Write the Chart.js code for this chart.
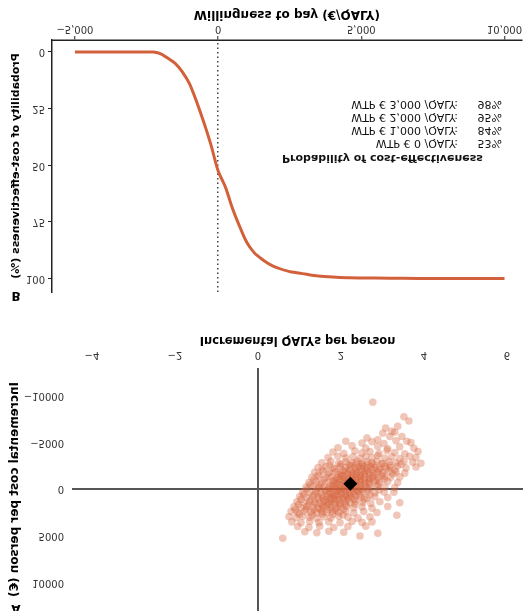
<!DOCTYPE html>
<html>
<head>
<meta charset="utf-8">
<script src="https://cdn.jsdelivr.net/npm/chart.js@4/dist/chart.umd.min.js"></script>
<style>
  html, body { margin: 0; padding: 0; background: #fff; }
  #wrap { width: 523px; height: 611px; overflow: hidden; }
  canvas { display: block; transform: scaleY(-1); }
</style>
</head>
<body>
<div id="wrap">
  <canvas id="ceacChart" width="523" height="305"></canvas>
  <canvas id="planeChart" width="523" height="306"></canvas>
</div>
<script>
// panel B: acceptability curve
const wtpValues = [-5000, -2500, -2250, -2000, -1750, -1500, -1250, -1000, -750, -500, -250, 0, 250, 500, 750, 1000, 1250, 1500, 1750, 2000, 2500, 3000, 3500, 4000, 4500, 5000, 6000, 7000, 8000, 9000, 10000];
const probCE = [0, 0, 0, 0.8, 2.8, 5, 8.8, 14, 22, 31, 41, 52.5, 59.5, 69, 77, 84, 88.5, 91.2, 93.4, 95, 97, 98, 98.9, 99.4, 99.7, 99.8, 99.9, 100, 100, 100, 100];
const wtpTicks = [-5000, 0, 5000, 10000];
const wtpTickLabels = ['\u22125,000', '0', '5,000', '10,000'];
const probTicks = [0, 25, 50, 75, 100];
const thresholdWtp = ['0', '1,000', '2,000', '3,000'];
const thresholdProb = [53, 84, 95, 98];

// panel A: cost-effectiveness plane (qaly, cost)
const simPoints = [
  [2.77,-9260],
  [3.52,-7700],[3.64,-7250],
  [3.08,-6500],[3.23,-6150],[3.37,-6700],
  [3.01,-5950],[3.30,-6050],[3.47,-5600],
  [2.63,-5450],[2.89,-5250],[3.18,-5600],[3.59,-5100],
  [2.12,-5100],[2.51,-4900],[2.75,-5050],[3.04,-4850],[3.33,-5150],[3.69,-4950],
  [1.93,-4400],[2.27,-4600],[2.60,-4350],[2.89,-4550],[3.13,-4300],[3.42,-4500],[3.76,-4350],
  [1.81,-3950],[2.07,-3800],[2.34,-4050],[2.51,-3850],[2.70,-4000],[2.92,-3800],[3.11,-4100],[3.30,-3900],[3.54,-3750],[3.86,-4000],
  [1.69,-3350],[1.93,-3500],[2.12,-3300],[2.29,-3450],[2.46,-3250],[2.60,-3500],[2.75,-3350],[2.89,-3550],[3.06,-3300],[3.23,-3450],[3.42,-3250],[3.66,-3500],[3.81,-3350],
  [1.54,-2800],[1.76,-2950],[1.95,-2750],[2.12,-2900],[2.27,-2800],[2.39,-2950],[2.51,-2750],[2.63,-2900],[2.75,-2800],[2.87,-2950],[3.01,-2750],[3.16,-2900],[3.33,-2800],[3.52,-2950],[3.73,-2850],[3.93,-2750],
  [1.45,-2300],[1.64,-2400],[1.81,-2250],[1.98,-2400],[2.12,-2300],[2.24,-2450],[2.34,-2250],[2.43,-2350],[2.53,-2450],[2.63,-2250],[2.72,-2400],[2.82,-2300],[2.94,-2200],[3.06,-2400],[3.20,-2300],[3.37,-2450],[3.57,-2250],[3.81,-2350],
  [1.37,-1800],[1.57,-1900],[1.73,-1750],[1.88,-1850],[2.00,-1700],[2.10,-1900],[2.19,-1800],[2.29,-1700],[2.39,-1850],[2.48,-1750],[2.58,-1900],[2.67,-1800],[2.77,-1700],[2.89,-1850],[3.01,-1750],[3.16,-1900],[3.33,-1800],[3.54,-1700],
  [1.30,-1250],[1.47,-1350],[1.64,-1200],[1.78,-1300],[1.90,-1200],[2.00,-1350],[2.10,-1250],[2.19,-1150],[2.29,-1300],[2.39,-1200],[2.48,-1350],[2.58,-1250],[2.67,-1150],[2.77,-1300],[2.89,-1200],[3.04,-1350],[3.20,-1250],[3.42,-1300],
  [1.23,-700],[1.40,-800],[1.54,-650],[1.69,-750],[1.81,-850],[1.90,-700],[2.00,-800],[2.10,-650],[2.19,-750],[2.29,-850],[2.39,-700],[2.48,-800],[2.58,-650],[2.67,-750],[2.80,-850],[2.94,-700],[3.13,-800],[3.37,-700],
  [1.16,-200],[1.33,-300],[1.47,-150],[1.59,-250],[1.71,-100],[1.81,-300],[1.90,-200],[2.00,-100],[2.10,-250],[2.19,-150],[2.29,-300],[2.39,-200],[2.48,-100],[2.60,-250],[2.72,-150],[2.87,-300],[3.06,-200],[3.30,-150],
  [1.08,300],[1.25,400],[1.40,250],[1.52,350],[1.64,200],[1.73,400],[1.83,300],[1.93,200],[2.02,350],[2.12,250],[2.22,400],[2.31,300],[2.41,200],[2.53,350],[2.65,250],[2.82,400],[3.04,300],[3.28,350],
  [1.01,800],[1.18,900],[1.33,750],[1.45,850],[1.57,950],[1.66,800],[1.76,900],[1.86,750],[1.95,850],[2.05,950],[2.14,800],[2.24,900],[2.36,750],[2.48,850],[2.63,950],[2.82,800],[3.13,900],
  [0.94,1350],[1.11,1450],[1.25,1300],[1.37,1400],[1.49,1500],[1.59,1350],[1.69,1450],[1.78,1300],[1.88,1400],[1.98,1500],[2.10,1350],[2.22,1450],[2.36,1300],[2.53,1400],[2.72,1500],[2.94,1350],[3.42,1450],
  [0.87,1900],[1.04,2000],[1.18,1850],[1.33,1950],[1.45,2050],[1.57,1900],[1.66,1800],[1.76,1950],[1.88,2050],[2.00,1900],[2.14,1850],[2.31,2000],[2.51,1900],[2.75,2050],[3.13,1850],
  [0.80,2400],[0.96,2500],[1.13,2350],[1.28,2450],[1.42,2550],[1.54,2400],[1.66,2500],[1.81,2350],[1.95,2500],[2.12,2400],[2.31,2550],[2.55,2400],[2.87,2500],
  [0.75,2950],[0.92,3050],[1.08,2900],[1.25,3000],[1.42,3100],[1.59,2950],[1.76,3050],[1.95,2900],[2.17,3000],[2.41,3100],[2.70,2950],[3.35,2800],
  [0.82,3500],[1.04,3600],[1.25,3450],[1.47,3550],[1.71,3500],[1.98,3600],[2.27,3450],[2.51,3550],[2.75,3500],
  [0.96,4000],[1.23,4100],[1.49,3950],[1.83,4100],[2.17,4000],[2.60,3950],
  [1.13,4550],[1.42,4650],[1.71,4500],[2.07,4600],[2.89,4700],
  [0.60,5250],[2.46,5000],
  // denser core
  [1.72,-2550],[2.00,-2650],[2.20,-2600],[2.36,-2700],[2.50,-2550],[2.66,-2650],[2.80,-2600],[2.98,-2700],[3.18,-2550],[3.45,-2650],
  [1.55,-2050],[1.85,-2150],[2.05,-2000],[2.22,-2100],[2.36,-2050],[2.50,-2150],[2.62,-2000],[2.76,-2100],[2.92,-2050],[3.10,-2150],[3.30,-2000],
  [1.45,-1500],[1.70,-1600],[1.94,-1550],[2.05,-1450],[2.16,-1600],[2.26,-1500],[2.36,-1550],[2.46,-1450],[2.56,-1600],[2.70,-1500],[2.84,-1550],[3.00,-1450],[3.25,-1600],
  [1.35,-1000],[1.60,-1050],[1.84,-950],[1.96,-1050],[2.06,-1000],[2.16,-950],[2.26,-1050],[2.36,-1000],[2.46,-950],[2.56,-1050],[2.70,-1000],[2.86,-950],[3.05,-1050],
  [1.26,-450],[1.50,-500],[1.74,-400],[1.86,-550],[1.96,-450],[2.06,-500],[2.16,-400],[2.26,-550],[2.36,-450],[2.46,-500],[2.56,-400],[2.70,-550],[2.90,-450],
  [1.18,50],[1.42,0],[1.62,100],[1.78,-50],[1.88,50],[1.98,100],[2.08,0],[2.18,50],[2.28,-50],[2.38,100],[2.50,50],[2.66,0],[2.92,100],
  [1.10,600],[1.36,550],[1.54,650],[1.70,550],[1.80,600],[1.90,650],[2.00,550],[2.10,600],[2.20,650],[2.32,550],[2.46,600],[2.70,650],
  [1.04,1100],[1.28,1150],[1.46,1050],[1.62,1150],[1.74,1100],[1.84,1050],[1.94,1150],[2.06,1100],[2.18,1050],[2.32,1150],[2.56,1100],
  [0.98,1650],[1.22,1700],[1.40,1600],[1.56,1700],[1.72,1650],[1.84,1600],[1.96,1700],[2.12,1650],[2.34,1600],
  [0.90,2200],[1.16,2150],[1.36,2250],[1.52,2150],[1.70,2200],[1.88,2250],[2.06,2150],
  [1.00,2700],[1.30,2750],[1.55,2650],[1.80,2700],[2.05,2750]
];
const meanPoint = [2.23, -550];
const qalyTicks = [-4, -2, 0, 2, 4, 6];
const costTicks = [-10000, -5000, 0, 5000, 10000];

const FONT = '"DejaVu Sans", sans-serif';
const curveColor = '#d2603a';

function panelLetter(letter, x, y) {
    return {
        id: 'letter' + letter,
        afterDraw(chart) {
            const ctx = chart.ctx;
            ctx.save();
            ctx.font = 'bold 12px ' + FONT;
            ctx.fillStyle = '#000';
            ctx.textAlign = 'center';
            ctx.textBaseline = 'middle';
            ctx.fillText(letter, x, y);
            ctx.restore();
        }
    };
}

const ceacText = {
    id: 'ceacText',
    afterDraw(chart) {
        const ctx = chart.ctx;
        ctx.save();
        ctx.fillStyle = '#111';
        ctx.textBaseline = 'middle';
        ctx.font = 'bold 11px ' + FONT;
        ctx.fillText('Probability of cost-effectiveness', 282, 147);
        ctx.font = '11px ' + FONT;
        ctx.textAlign = 'right';
        for (let i = 0; i < thresholdWtp.length; i++) {
            const y = 162 + i * 13;
            ctx.fillText(`WTP € ${thresholdWtp[i]} /QALY:`, 458, y);
            ctx.fillText(`${thresholdProb[i]}%`, 502, y);
        }
        ctx.restore();
    }
};

new Chart(document.getElementById('ceacChart'), {
    type: 'line',
    data: {
        datasets: [{
            data: wtpValues.map((w, i) => ({ x: w, y: probCE[i] })),
            borderColor: curveColor,
            borderWidth: 3,
            pointRadius: 0,
            tension: 0.3,
            fill: false
        }]
    },
    options: {
        responsive: false,
        animation: false,
        layout: { autoPadding: false, padding: { top: 13, right: 0, left: 0, bottom: 0 } },
        plugins: { legend: { display: false }, tooltip: { enabled: false } },
        scales: {
            x: {
                type: 'linear',
                min: -5800,
                max: 10600,
                afterBuildTicks: s => { s.ticks = wtpTicks.map(v => ({ value: v })); },
                afterFit: s => { s.height = 40; },
                ticks: {
                    callback: (v, i) => wtpTickLabels[i],
                    font: { family: FONT, size: 10 },
                    color: '#333',
                    padding: 1,
                    maxRotation: 0
                },
                grid: {
                    color: c => (c.tick && c.tick.value === 0) ? '#444' : 'rgba(0,0,0,0)',
                    lineWidth: 1.5,
                    tickColor: '#222',
                    tickLength: 4,
                    tickWidth: 1
                },
                border: { display: true, color: '#222', width: 1.5, dash: [1.5, 3] },
                title: {
                    display: true,
                    text: 'Willingness to pay (€/QALY)',
                    font: { family: FONT, size: 12, weight: 'bold' },
                    color: '#000',
                    padding: { top: 0, bottom: 7 }
                }
            },
            y: {
                min: -5.3,
                max: 106,
                afterBuildTicks: s => { s.ticks = probTicks.map(v => ({ value: v })); },
                afterFit: s => { s.width = 52; },
                ticks: {
                    font: { family: FONT, size: 10 },
                    color: '#333',
                    padding: 3
                },
                grid: {
                    drawOnChartArea: false,
                    tickColor: '#222',
                    tickLength: 4
                },
                border: { display: true, color: '#222', width: 1.5 },
                title: {
                    display: true,
                    text: 'Probability of cost-effectiveness (%)',
                    font: { family: FONT, size: 11, weight: 'bold' },
                    color: '#000',
                    padding: { top: 10, bottom: 0 }
                }
            }
        }
    },
    plugins: [ceacText, panelLetter('B', 16, 10)]
});

new Chart(document.getElementById('planeChart'), {
    type: 'scatter',
    data: {
        datasets: [
            {
                data: [{ x: meanPoint[0], y: meanPoint[1] }],
                pointStyle: 'rectRot',
                pointRadius: 7,
                backgroundColor: '#000',
                borderColor: '#000',
                borderWidth: 0
            },
            {
                data: simPoints.map(p => ({ x: p[0], y: p[1] })),
                pointRadius: 3.8,
                backgroundColor: 'rgba(214, 96, 58, 0.36)',
                borderWidth: 0
            }
        ]
    },
    options: {
        responsive: false,
        animation: false,
        layout: { autoPadding: false, padding: 0 },
        plugins: { legend: { display: false }, tooltip: { enabled: false } },
        scales: {
            x: {
                type: 'linear',
                min: -4.48,
                max: 6.39,
                afterBuildTicks: s => { s.ticks = qalyTicks.map(v => ({ value: v })); },
                afterFit: s => { s.height = 63; },
                ticks: {
                    callback: v => String(v).replace('-', '\u2212'),
                    font: { family: FONT, size: 10 },
                    color: '#333',
                    padding: 7,
                    maxRotation: 0
                },
                grid: {
                    drawTicks: false,
                    color: c => (c.tick && c.tick.value === 0) ? '#555' : 'rgba(0,0,0,0)',
                    lineWidth: 2
                },
                border: { display: false },
                title: {
                    display: true,
                    text: 'Incremental QALYs per person',
                    font: { family: FONT, size: 11.5, weight: 'bold' },
                    color: '#000',
                    padding: { top: 0, bottom: 28 }
                }
            },
            y: {
                min: -12900,
                max: 13000,
                afterBuildTicks: s => { s.ticks = costTicks.map(v => ({ value: v })); },
                afterFit: s => { s.width = 72; s.paddingTop = 0; s.paddingBottom = 0; },
                ticks: {
                    callback: v => String(v).replace('-', '\u2212'),
                    font: { family: FONT, size: 10 },
                    color: '#333',
                    padding: 8
                },
                grid: {
                    drawTicks: false,
                    color: c => (c.tick && c.tick.value === 0) ? '#555' : 'rgba(0,0,0,0)',
                    lineWidth: 2
                },
                border: { display: false },
                title: {
                    display: true,
                    text: 'Incremental cost per person (€)',
                    font: { family: FONT, size: 12, weight: 'bold' },
                    color: '#000',
                    padding: { top: 8, bottom: 0 }
                }
            }
        }
    },
    plugins: [panelLetter('A', 16, 3)]
});
</script>
</body>
</html>
